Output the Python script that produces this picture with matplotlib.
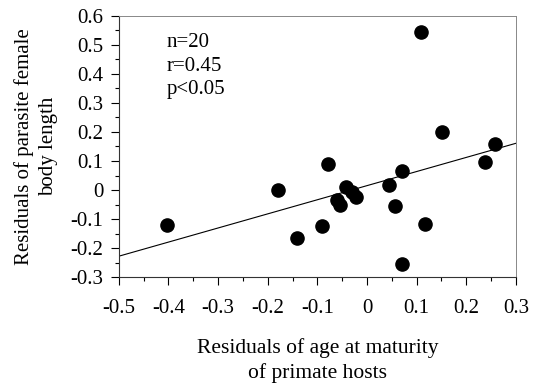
import matplotlib
matplotlib.use("Agg")
import matplotlib.pyplot as plt
from matplotlib.ticker import MultipleLocator

# residuals of age at maturity (x) and parasite female body length (y)
age_resid = [-0.404, -0.179, -0.142, -0.091, -0.079, -0.061, -0.054, -0.042,
             -0.031, -0.023, 0.045, 0.056, 0.071, 0.071, 0.108, 0.116,
             0.152, 0.238, 0.257]
length_resid = [-0.12, 0.0, -0.167, -0.123, 0.089, -0.034, -0.052, 0.011,
                -0.006, -0.023, 0.017, -0.054, 0.067, -0.256, 0.544, -0.117,
                0.199, 0.095, 0.159]

fit_x = [-0.5, 0.3]
fit_y = [-0.228, 0.161]

x_ticks = [-0.5, -0.4, -0.3, -0.2, -0.1, 0, 0.1, 0.2, 0.3]
y_ticks = [-0.3, -0.2, -0.1, 0, 0.1, 0.2, 0.3, 0.4, 0.5, 0.6]
stats_lines = ["n=20", "r=0.45", "p<0.05"]

plt.rcParams["font.family"] = ["Liberation Serif", "DejaVu Serif"]

fig = plt.figure(figsize=(5.33, 3.87), dpi=100)
ax = fig.add_axes([0.223, 0.284, 0.745, 0.675])

ax.scatter(age_resid, length_resid, s=90, color="black", zorder=3)
ax.plot(fit_x, fit_y, color="black", linewidth=0.8)

ax.set_xlim(-0.5, 0.3)
ax.set_ylim(-0.3, 0.6)
ax.set_xticks(x_ticks)
ax.set_xticklabels(["-0.5", "-0.4", "-0.3", "-0.2", "-0.1", "0", "0.1", "0.2", "0.3"])
ax.set_yticks(y_ticks)
ax.set_yticklabels(["-0.3", "-0.2", "-0.1", "0", "0.1", "0.2", "0.3", "0.4", "0.5", "0.6"])
ax.xaxis.set_minor_locator(MultipleLocator(0.05))
ax.yaxis.set_minor_locator(MultipleLocator(0.05))
ax.tick_params(which="major", direction="out", length=6, width=0.8, labelsize=15)
ax.tick_params(which="minor", direction="out", length=3, width=0.8)
ax.tick_params(axis="x", pad=10)
ax.tick_params(axis="y", pad=5)

for side in ["top", "right"]:
    ax.spines[side].set_color("#888888")
    ax.spines[side].set_linewidth(0.7)
for side in ["left", "bottom"]:
    ax.spines[side].set_color("#333333")
    ax.spines[side].set_linewidth(0.8)

for i, line in enumerate(stats_lines):
    ax.text(-0.403, 0.507 - i * 0.081, line, fontsize=15, va="center", ha="left")

ax.set_xlabel("Residuals of age at maturity\nof primate hosts", fontsize=15.5,
              labelpad=14, linespacing=1.35)
ax.set_ylabel("Residuals of parasite female\nbody length", fontsize=15,
              labelpad=9, linespacing=1.35)

fig.savefig("out.png", dpi=100)
